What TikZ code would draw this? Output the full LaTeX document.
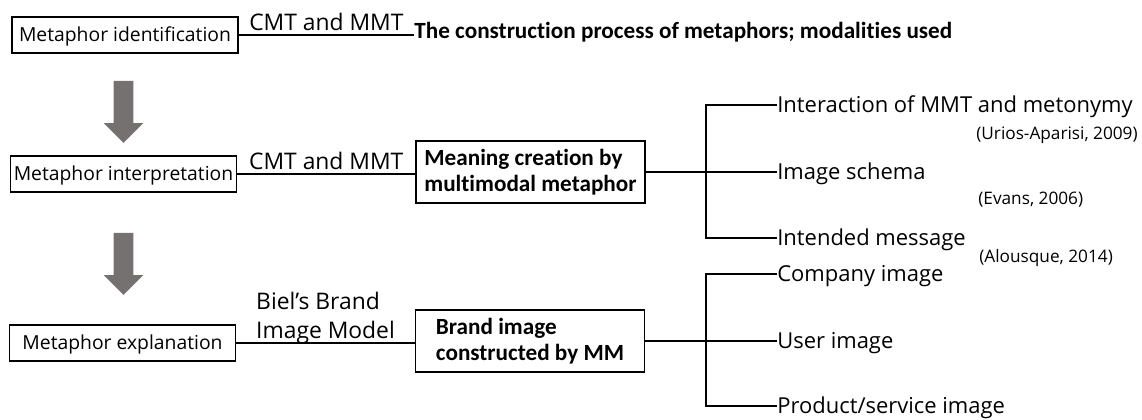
\documentclass[tikz,border=0pt]{standalone}
\usepackage{fontspec}
\setmainfont{Open Sans}
\newfontfamily\headfont{Carlito}[Ligatures={NoCommon,NoRare}]
\usepackage{xcolor}
\definecolor{arrowgray}{HTML}{767171}
\usepackage{tikz}
\usetikzlibrary{shapes.arrows}

\begin{document}
\begin{tikzpicture}[
  x=0.02cm, y=-0.02cm,
  font=\fontsize{11}{13}\selectfont,
  stage/.style={draw, line width=0.85pt, minimum width=4.52cm, minimum height=0.72cm,
                inner sep=0pt, text height=7.85pt, text depth=0pt},
  result/.style={draw, line width=0.85pt, align=left, minimum width=4.58cm, minimum height=1.24cm,
                 inner sep=0pt, font=\headfont\bfseries\fontsize{13.2}{14.7}\selectfont},
  heading/.style={anchor=base west, inner sep=0pt, font=\headfont\bfseries\fontsize{13.2}{15}\selectfont},
  theory/.style={above, inner xsep=0pt, inner ysep=2pt, align=left, text depth=0pt,
                 font=\fontsize{13}{16.4}\selectfont},
  leaf/.style={anchor=west, inner sep=0pt, text height=8.9pt, text depth=0pt,
               font=\fontsize{12.5}{15}\selectfont},
  cite/.style={anchor=base west, inner sep=0pt, font=\fontsize{9.8}{12}\selectfont},
  flowarrow/.style={single arrow, fill=arrowgray, draw=none, rotate=-90,
                    inner xsep=0pt, inner ysep=0.19cm, minimum height=1.24cm,
                    single arrow head extend=0.2cm},
  link/.style={line width=0.85pt}
]
  \useasboundingbox (0,0) rectangle (1142,419);

  % stages on the left
  \node[stage] (ident)  at (125,35)    {Metaphor identification};
  \node[stage] (interp) at (123.5,174) {Metaphor interpretation};
  \node[stage] (expl)   at (122.5,343) {Metaphor explanation};

  \node[flowarrow] (down1) at (123.5,107) {};
  \node[flowarrow] (down2) at (123.5,259) {};

  % what each stage gives
  \node[heading] (title) at (414,38.3) {The construction process of metaphors; modalities used};
  \node[result] (mean)  at (530.5,172) {Meaning creation by\\multimodal metaphor};
  \node[result] (brand) at (530,341)   {Brand image\\constructed by MM};

  \draw[link] (ident) -- node[theory] (cmt1) {CMT and MMT} (ident -| title.west);
  \draw[link] (interp) -- node[theory] (cmt2) {CMT and MMT} (interp -| mean.west);
  \draw[link] (expl) -- node[theory] (biel) {Biel’s Brand\\Image Model} (expl -| brand.west);

  % branches on the right
  \node[leaf] (inter)   at (777,105) {Interaction of MMT and metonymy};
  \node[leaf] (schema)  at (777,172) {Image schema};
  \node[leaf] (msg)     at (777,238) {Intended message};
  \node[leaf] (company) at (777,274) {Company image};
  \node[leaf] (user)    at (777,341) {User image};
  \node[leaf] (product) at (777,406) {Product/service image};

  \node[cite] (urios)    at (976,139.3) {(Urios-Aparisi, 2009)};
  \node[cite] (evans)    at (978,204)   {(Evans, 2006)};
  \node[cite] (alousque) at (979,262.7) {(Alousque, 2014)};

  \coordinate (fork1) at (706,172);
  \coordinate (fork2) at (706,341);
  \draw[link] (mean) -- (schema.west);
  \draw[link] (inter.west) -| (fork1) |- (msg.west);
  \draw[link] (brand) -- (user.west);
  \draw[link] (company.west) -| (fork2) |- (product.west);
\end{tikzpicture}
\end{document}
